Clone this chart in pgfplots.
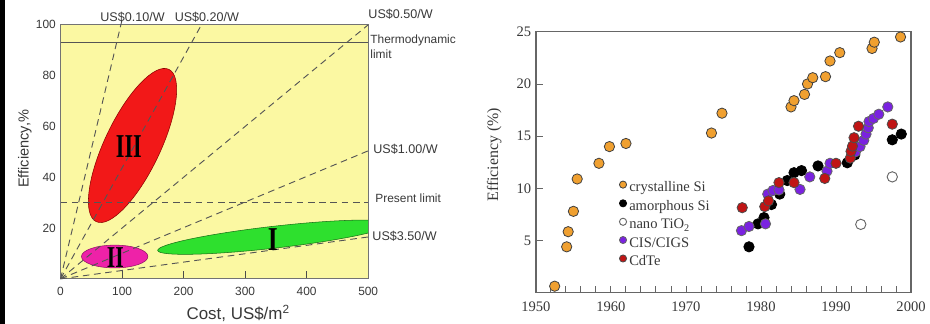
\documentclass[border=0pt]{standalone}
\usepackage{fontspec}
\setmainfont{Liberation Sans}
\newfontfamily\serif{Liberation Serif}
\usepackage{graphicx}
\usepackage{pgfplots}
\pgfplotsset{compat=1.18}
\definecolor{bgY}{HTML}{FBF8A2}
\definecolor{redE}{HTML}{F21818}
\definecolor{magE}{HTML}{EE22A8}
\definecolor{grnE}{HTML}{2EE02E}
\definecolor{orgM}{HTML}{F0A030}
\definecolor{purM}{HTML}{7A22E0}
\definecolor{redM}{HTML}{C01515}
\definecolor{lineG}{HTML}{555555}
\definecolor{txtG}{HTML}{383838}
\begin{document}
\begin{tikzpicture}
\begin{scope}[shift={(0pt,244.5pt)},x=0.75pt,y=-0.75pt]
\useasboundingbox (0,0) rectangle (930,326);
\fill[black] (0,0) rectangle (5,326);
\end{scope}
% ---------------- left panel
\begin{axis}[at={(45.75pt,33.75pt)}, anchor=south west, scale only axis,
  width=232.5pt, height=192pt, xmin=0, xmax=500, ymin=0, ymax=100,
  axis background/.style={fill=bgY},
  axis line style={draw=black!55, line width=0.8pt},
  xtick={0,100,...,500}, ytick={20,40,...,100},
  tick align=inside, xtick pos=left, ytick pos=left,
  major tick length=6pt, ytick style={draw=none},
  xtick style={draw=black!70, line width=0.8pt},
  tick label style={font=\fontsize{9}{10}\selectfont, text=txtG},
  x tick label style={yshift=-3pt},
  /pgf/number format/assume math mode=true,
  clip=false]
\begin{scope}
\clip (axis cs:0,0) rectangle (axis cs:500,100);
\fill[redE, draw=red!55!black, line width=0.4pt, rotate around={64.5:(axis cs:117,52.5)}] (axis cs:117,52.5) ellipse [x radius=63.75pt, y radius=21pt];
\fill[magE, draw=magE!60!black, line width=0.4pt] (axis cs:88,8.8) ellipse [x radius=25.1pt, y radius=8.6pt];
\fill[grnE, draw=grnE!50!black, line width=0.4pt, rotate around={6.5:(axis cs:347,16.4)}] (axis cs:347,16.4) ellipse [x radius=88.5pt, y radius=8.25pt];
\end{scope}
\addplot[lineG, line width=0.7pt, dash pattern=on 5pt off 3.5pt] coordinates {(0,0) (101,103)};
\addplot[lineG, line width=0.7pt, dash pattern=on 5pt off 3.5pt] coordinates {(0,0) (229,100)};
\addplot[lineG, line width=0.7pt, dash pattern=on 5pt off 3.5pt] coordinates {(0,0) (500,100)};
\addplot[lineG, line width=0.7pt, dash pattern=on 5pt off 3.5pt] coordinates {(0,0) (500,50.4)};
\addplot[lineG, line width=0.7pt, dash pattern=on 5pt off 3.5pt] coordinates {(0,0) (500,16.5)};
\addplot[lineG, line width=0.7pt, dash pattern=on 5pt off 3.5pt] coordinates {(0,30) (500,30)};
\addplot[lineG, line width=0.6pt] coordinates {(0,93) (500,93)};
\node at (axis cs:111,52) {\resizebox{19.5pt}{16.5pt}{\serif\bfseries III}};
\node at (axis cs:89,8.5) {\resizebox{12.75pt}{15pt}{\serif\bfseries II}};
\node at (axis cs:345,15.5) {\resizebox{7.5pt}{16.5pt}{\serif\bfseries I}};
\end{axis}
% ---------------- right panel
\begin{axis}[at={(405pt,23.25pt)}, anchor=south west, scale only axis,
  width=283.5pt, height=197.25pt, xmin=1950, xmax=2000, ymin=0, ymax=25,
  xtick={1950,1960,...,2000}, minor x tick num=4, ytick={5,10,...,25},
  tick align=inside, xtick pos=left, ytick pos=left,
  major tick length=5pt, minor tick length=5pt,
  x tick label style={/pgf/number format/1000 sep={}, yshift=-3pt},
  axis line style={draw=black!60, line width=1pt},
  tick style={draw=black!60, line width=0.7pt},
  tick label style={font=\serif\fontsize{11}{12}\selectfont, text=txtG},
  /pgf/number format/assume math mode=true,
  clip=false,
  legend style={at={(axis cs:1961.1,10.9)}, anchor=north west, draw=none, fill=none,
     font=\serif\fontsize{11}{12}\selectfont, text=txtG, row sep=1pt, inner sep=0pt,
     /tikz/every even column/.append style={column sep=0pt}},
  legend cell align=left,
  legend image code/.code={\draw[#1, mark size=2.7pt] plot coordinates {(0pt,2.5pt)};}]
\addplot[only marks, mark=*, mark size=3.9pt, mark options={fill=orgM, draw=black!75, line width=0.6pt}] coordinates {
(1952.5,0.63)(1954.1,4.4)(1954.3,5.85)(1955.0,7.8)(1955.5,10.9)(1958.4,12.4)(1959.8,14.0)(1962.0,14.3)(1973.4,15.3)(1974.8,17.2)(1984.0,17.8)(1984.4,18.4)(1985.8,19.0)(1986.2,20.0)(1986.9,20.6)(1988.6,20.7)(1989.2,22.2)(1990.5,23.0)(1994.8,23.4)(1995.1,24.0)(1998.6,24.5)};
\addlegendentry{crystalline Si}
\addplot[only marks, mark=*, mark size=3.9pt, mark options={fill=black, draw=black, line width=0.6pt}] coordinates {
(1978.4,4.4)(1979.6,6.6)(1980.4,7.2)(1981.4,8.45)(1982.5,9.45)(1983.5,10.75)(1984.4,11.5)(1985.4,11.7)(1987.6,12.15)(1991.5,12.45)(1992.5,13.2)(1997.5,14.65)(1998.7,15.2)};
\addlegendentry{amorphous Si}
\addplot[only marks, mark=*, mark size=3.9pt, mark options={fill=white, draw=black!60, line width=0.7pt}] coordinates {
(1993.3,6.55)(1997.5,11.1)};
\addlegendentry{nano TiO\textsubscript{2}}
\addplot[only marks, mark=*, mark size=3.9pt, mark options={fill=purM, draw=black!60, line width=0.6pt}] coordinates {
(1977.4,5.95)(1978.4,6.35)(1980.6,6.6)(1980.9,9.45)(1981.6,9.8)(1982.4,9.85)(1985.2,9.9)(1986.5,11.1)(1988.8,11.65)(1989.2,12.4)(1992.6,13.5)(1993.2,14.0)(1993.7,14.6)(1994.0,15.2)(1994.3,15.8)(1994.4,16.4)(1995.0,16.7)(1995.7,17.1)(1996.9,17.8)};
\addlegendentry{CIS/CIGS}
\addplot[only marks, mark=*, mark size=3.9pt, mark options={fill=redM, draw=black!70, line width=0.6pt}] coordinates {
(1977.5,8.15)(1980.5,8.25)(1981.0,8.8)(1982.4,10.55)(1984.4,10.55)(1988.5,10.95)(1990.0,12.4)(1991.9,12.9)(1992.0,13.55)(1992.2,14.05)(1992.4,14.85)(1993.0,15.95)(1997.5,16.15)};
\addlegendentry{CdTe}
\end{axis}
% ---------------- text
\begin{scope}[shift={(0pt,244.5pt)},x=0.75pt,y=-0.75pt, every node/.style={text=txtG, inner sep=0pt}]
\node[font=\fontsize{9.5}{10}\selectfont] at (133.5,17) {US\$0.10/W};
\node[font=\fontsize{9.5}{10}\selectfont] at (208.5,17) {US\$0.20/W};
\node[font=\fontsize{9.5}{10}\selectfont, anchor=west] at (371,14) {US\$0.50/W};
\node[font=\fontsize{9}{10}\selectfont, anchor=west] at (373,41) {Thermodynamic};
\node[font=\fontsize{9}{10}\selectfont, anchor=west] at (373,55) {limit};
\node[font=\fontsize{9.5}{10}\selectfont, anchor=west] at (376,150) {US\$1.00/W};
\node[font=\fontsize{9}{10}\selectfont, anchor=west] at (378,200) {Present limit};
\node[font=\fontsize{9.5}{10}\selectfont, anchor=west] at (375,238) {US\$3.50/W};
\node[font=\fontsize{11}{12}\selectfont, rotate=90] at (25,150) {Efficiency,\%};
\node[font=\fontsize{12.8}{14}\selectfont] at (240,316) {Cost, US\$/m\textsuperscript{2}};
\node[font=\serif\fontsize{12}{14}\selectfont, rotate=90] at (498,156) {Efficiency (\%)};
\end{scope}
\end{tikzpicture}
\end{document}
